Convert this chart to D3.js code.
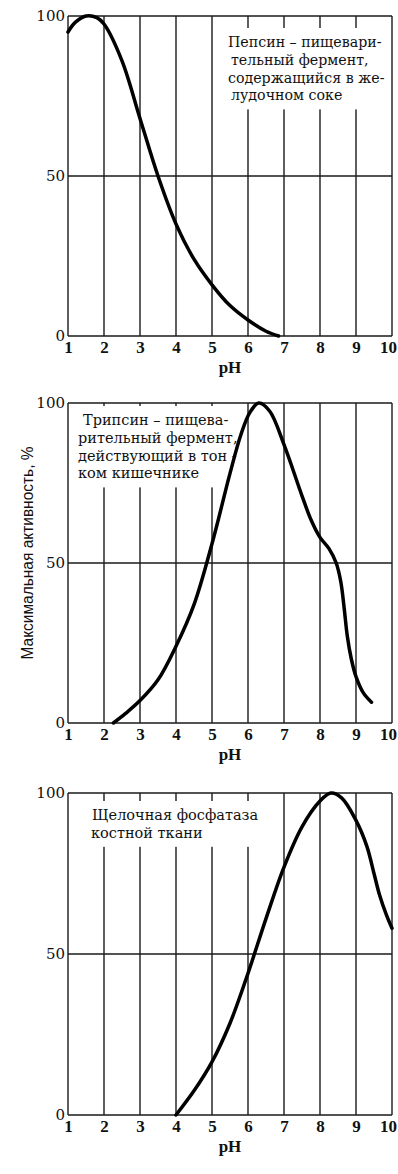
<!DOCTYPE html>
<meta charset="utf-8">
<style>
  body { margin: 0; background: #fff; }
  svg { display: block; }
</style>
<svg width="398" height="1174"></svg>
<script src="https://cdn.jsdelivr.net/npm/d3@7"></script>
<script>

var svg = d3.select("svg");

// axis values
var phTicks = [1, 2, 3, 4, 5, 6, 7, 8, 9, 10];
var activityTicks = [0, 50, 100];

// pH -> activity (% of maximum)
var pepsin = [[1, 95], [1.2, 98], [1.5, 100], [1.8, 99.5], [2, 97.5], [2.5, 86], [3, 68],
  [3.5, 50], [4, 35], [4.5, 24], [5, 16], [5.5, 9.5], [6, 5], [6.5, 1.5], [6.85, 0]];
var trypsin = [[2.26, 0], [2.6, 3], [3, 7], [3.5, 13.5], [4, 24], [4.5, 37], [5, 56],
  [5.5, 78], [5.8, 90], [6.05, 97], [6.3, 100], [6.6, 97.5], [7, 87], [7.5, 71],
  [7.75, 63.5], [8, 58], [8.25, 54.5], [8.45, 50], [8.58, 44], [8.67, 36], [8.76, 27],
  [8.87, 20], [9, 14.5], [9.2, 9.5], [9.43, 6.5]];
var phosphatase = [[4, 0], [4.5, 7.5], [5, 16.5], [5.5, 28.5], [6, 44], [6.5, 61], [7, 77],
  [7.5, 89.5], [8, 97.5], [8.3, 100], [8.6, 98.5], [9, 91.5], [9.3, 83.5], [9.5, 75],
  [9.65, 68.5], [9.85, 62], [10, 58]];

var pepsinNote = ["Пепсин – пищевари-", "тельный фермент,", "содержащийся в же-", "лудочном соке"];
var trypsinNote = ["Трипсин – пищева-", "рительный фермент,", "действующий в тон -", "ком кишечнике"];
var phosphataseNote = ["Щелочная фосфатаза", "костной ткани"];

var yTitle = "Максимальная активность, %";
var xTitle = "pH";

var panels = [
  {top: 16, h: 320, data: pepsin, note: pepsinNote, nx: 228, indent: [0, 3, 0, 3], ny: 31, fs: 14.2},
  {top: 403, h: 320, data: trypsin, note: trypsinNote, nx: 78, indent: [5, 0, 0, 0], ny: 22, fs: 14.5},
  {top: 793, h: 322, data: phosphatase, note: phosphataseNote, nx: 91, indent: [1, 0], ny: 27, fs: 14.5}
];

var x = d3.scaleLinear().domain([1, 10]).range([68, 392]);
var serif = '"DejaVu Serif", "Liberation Serif", serif';
var tickSerif = '"Liberation Serif", "Times New Roman", serif';

panels.forEach(function(p) {
  var y = d3.scaleLinear().domain([0, 100]).range([p.top + p.h, p.top]);
  var g = svg.append("g");

  // grid
  g.selectAll(".vline").data(phTicks).enter().append("line")
      .attr("x1", function(d) { return x(d); }).attr("x2", function(d) { return x(d); })
      .attr("y1", y(0)).attr("y2", y(100))
      .attr("stroke", "#1a1a1a").attr("stroke-width", 1.4);
  g.selectAll(".hline").data(activityTicks).enter().append("line")
      .attr("x1", x(1)).attr("x2", x(10))
      .attr("y1", function(d) { return y(d); }).attr("y2", function(d) { return y(d); })
      .attr("stroke", "#1a1a1a").attr("stroke-width", 1.4);

  // note with white box over grid
  var note = g.append("g");
  var txt = note.append("text")
      .style("font-family", serif).attr("font-size", p.fs).attr("fill", "#111");
  txt.selectAll("tspan").data(p.note).enter().append("tspan")
      .attr("x", function(d, i) { return p.nx + p.indent[i]; })
      .attr("y", function(d, i) { return p.top + p.ny + i * 17.8; })
      .text(function(d) { return d; });
  var bb = txt.node().getBBox();
  var bx0 = bb.x - 4, bx1 = Math.min(bb.x + bb.width + 4, x(10) - 2);
  var by0 = Math.max(bb.y - 6, p.top + 1), by1 = bb.y + bb.height + 6;
  note.insert("rect", "text")
      .attr("x", bx0).attr("y", by0)
      .attr("width", bx1 - bx0).attr("height", by1 - by0)
      .attr("fill", "#fff");

  // curve
  g.append("path")
      .datum(p.data)
      .attr("fill", "none").attr("stroke", "#000").attr("stroke-width", 3.5)
      .attr("stroke-linecap", "round")
      .attr("d", d3.line()
        .x(function(d) { return x(d[0]); })
        .y(function(d) { return y(d[1]); })
        .curve(d3.curveCatmullRom.alpha(0.5)));

  // axes labels
  var xa = g.append("g").attr("transform", "translate(0," + y(0) + ")")
      .call(d3.axisBottom(x).tickValues(phTicks).tickSize(0).tickPadding(5).tickFormat(d3.format("d")));
  xa.select(".domain").remove();
  xa.selectAll("text").style("font-family", tickSerif).style("font-weight", "bold")
      .attr("font-size", 17).attr("fill", "#111")
      .attr("dx", function(d) { return d === 10 ? -4 : 0; });

  var ya = g.append("g").attr("transform", "translate(" + x(1) + ",0)")
      .call(d3.axisLeft(y).tickValues(activityTicks).tickSize(0).tickPadding(3));
  ya.select(".domain").remove();
  ya.selectAll("text").style("font-family", serif)
      .attr("font-size", 15).attr("fill", "#111");

  g.append("text")
      .attr("x", (x(1) + x(10)) / 2).attr("y", y(0) + 37)
      .attr("text-anchor", "middle")
      .style("font-family", tickSerif).style("font-weight", "bold").attr("font-size", 17).attr("fill", "#111")
      .text(xTitle);
});

svg.append("text")
    .attr("transform", "translate(33,553) rotate(-90)")
    .attr("text-anchor", "middle")
    .attr("textLength", 213).attr("lengthAdjust", "spacingAndGlyphs")
    .style("font-family", '"Liberation Sans Narrow", "Liberation Sans", Arial, sans-serif').attr("font-size", 16)
    .attr("fill", "#111")
    .text(yTitle);

</script>
